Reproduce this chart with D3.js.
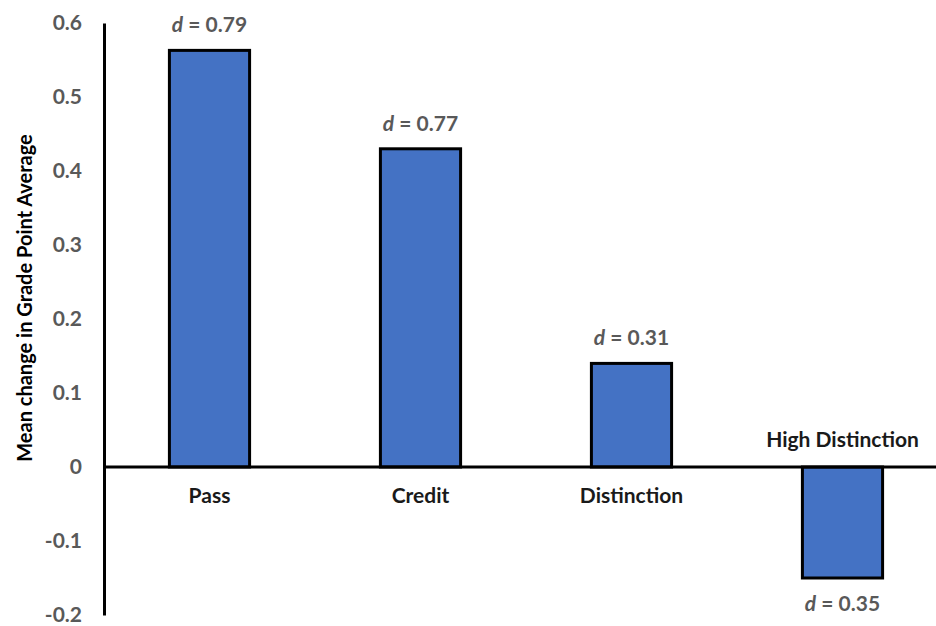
<!DOCTYPE html>
<html>
<head>
<meta charset="utf-8">
<script src="https://cdn.jsdelivr.net/npm/d3@7"></script>
<style>
  body { margin: 0; background: #fff; }
  svg text { font-family: Lato, "Open Sans", sans-serif; font-weight: bold; }
</style>
</head>
<body>
<div id="main-diagram"></div>
<script>
// data
const categories = ['Pass', 'Credit', 'Distinction', 'High Distinction']
const gpaChange = [0.563, 0.43, 0.14, -0.15]
const effectSizes = ['0.79', '0.77', '0.31', '0.35']
const yTicks = [-0.2, -0.1, 0, 0.1, 0.2, 0.3, 0.4, 0.5, 0.6]

const width = 936
const height = 626

const svg = d3.select('#main-diagram')
    .append('svg')
    .attr('width', width)
    .attr('height', height)

const x = d3.scaleBand()
    .domain(categories)
    .range([104, 948])
    .paddingInner(0.62)
    .paddingOuter(0.31)

const y = d3.scaleLinear()
    .domain([-0.2, 0.6])
    .range([615, 23])

// y axis: line + labels, no tick marks (plain hyphen for negatives, like Excel)
const yAxis = svg.append('g')
    .attr('transform', 'translate(104,0)')
    .call(d3.axisLeft(y).tickValues(yTicks).tickSize(0).tickPadding(22)
        .tickFormat(function (d) { return d === 0 ? '0' : d.toFixed(1) }))
yAxis.select('.domain').attr('stroke', '#000').attr('stroke-width', 3)
yAxis.selectAll('text')
    .attr('fill', '#595959')
    .style('font-size', '21px')

svg.append('text')
    .attr('transform', 'translate(32,' + 298 + ') rotate(-90)')
    .attr('text-anchor', 'middle')
    .attr('fill', '#000')
    .style('font-size', '20px')
    .text('Mean change in Grade Point Average')

// bars
svg.selectAll('rect.bar')
    .data(gpaChange)
    .enter()
    .append('rect')
    .attr('class', 'bar')
    .attr('x', function (d, i) { return x(categories[i]) })
    .attr('width', x.bandwidth())
    .attr('y', function (d) { return y(Math.max(0, d)) })
    .attr('height', function (d) { return Math.abs(y(d) - y(0)) })
    .attr('fill', '#4472C4')
    .attr('stroke', '#000')
    .attr('stroke-width', 3)

// zero line drawn over the bars
svg.append('line')
    .attr('x1', 104)
    .attr('x2', width)
    .attr('y1', y(0))
    .attr('y2', y(0))
    .attr('stroke', '#000')
    .attr('stroke-width', 3)

// category labels: below the line for positive bars, above for negative
svg.selectAll('text.cat')
    .data(gpaChange)
    .enter()
    .append('text')
    .attr('class', 'cat')
    .attr('x', function (d, i) { return x(categories[i]) + x.bandwidth() / 2 })
    .attr('y', function (d) { return d >= 0 ? y(0) + 36 : y(0) - 20 })
    .attr('text-anchor', 'middle')
    .attr('fill', '#1a1a1a')
    .style('font-size', '21px')
    .text(function (d, i) { return categories[i] })

// effect size labels
const dLabels = svg.selectAll('text.dlab')
    .data(gpaChange)
    .enter()
    .append('text')
    .attr('class', 'dlab')
    .attr('x', function (d, i) { return x(categories[i]) + x.bandwidth() / 2 })
    .attr('y', function (d) { return d >= 0 ? y(d) - 18 : y(d) + 33 })
    .attr('text-anchor', 'middle')
    .attr('fill', '#595959')
    .style('font-size', '21px')

dLabels.append('tspan').style('font-style', 'italic').text('d')
dLabels.append('tspan').text(function (d, i) { return ' = ' + effectSizes[i] })
</script>
</body>
</html>
